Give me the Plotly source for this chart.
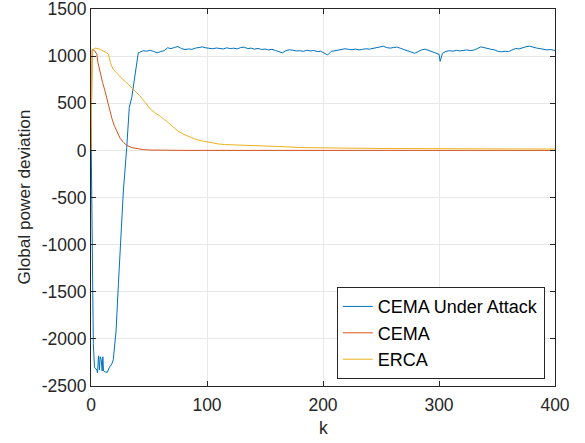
import plotly.graph_objects as go

# CEMA Under Attack
k_attack = [0, 1, 2, 3, 4, 5, 5.6, 6.5, 7.3, 7.9, 8.8, 9.6, 10.2, 10.8, 12, 14, 16, 18, 19.2,
            20.2, 21.6, 23.6, 26.4, 27.9, 30.8, 33, 35.1, 37.9, 38.8, 40.8,
            42, 45, 48, 51, 54, 57, 60, 63, 66, 69, 72, 75, 78, 81, 84, 87, 90, 93, 96, 99,
            102, 105, 108, 111, 114, 117, 120, 123, 126, 129, 132, 135, 138, 141, 144, 147,
            150, 153, 156, 159, 162, 165, 168, 171, 174, 177, 180, 183, 186, 189, 192, 195,
            198, 201, 204, 207, 210, 213, 216, 219, 222, 225, 228, 231, 234, 237, 240, 243,
            246, 249, 252, 255, 258, 261, 264, 267, 270, 273, 276, 279, 282, 285, 288, 291,
            294, 297, 300, 301, 303, 306, 309, 312, 315, 318, 321, 324, 327, 330, 333, 336,
            339, 342, 345, 348, 351, 354, 357, 360, 363, 366, 369, 372, 375, 378, 381, 384,
            387, 390, 393, 396, 399, 400]
v_attack = [259, -1200, -2050, -2300, -2320, -2330, -2360, -2180, -2330, -2190, -2220, -2340,
            -2190, -2340, -2350, -2355, -2300, -2265, -2220,
            -2100, -1918, -1422, -679, -431, 29, 453, 560, 772, 861, 1038,
            1040, 1058, 1052, 1062, 1050, 1035, 1048, 1058, 1088, 1080, 1092, 1102, 1080,
            1070, 1076, 1072, 1085, 1090, 1098, 1088,
            1084, 1078, 1086, 1082, 1076, 1088, 1080, 1084, 1077, 1090, 1096, 1080, 1085,
            1074, 1082, 1070,
            1075, 1066, 1072, 1060, 1048, 1035, 1058, 1068, 1062, 1055, 1058, 1050, 1062,
            1055, 1060, 1048,
            1052, 1030, 1012, 1050, 1058, 1064, 1070, 1078, 1072, 1068, 1075, 1066, 1072,
            1078, 1074, 1080,
            1088, 1100, 1105, 1090, 1085, 1092, 1096, 1082, 1068, 1060, 1045, 1030, 1048,
            1066, 1074, 1062,
            1050, 1040, 1020, 945, 1030, 1050, 1058, 1052, 1062, 1055, 1060, 1066, 1058,
            1064, 1080, 1098,
            1090, 1078, 1072, 1066, 1050, 1046, 1052, 1048, 1066, 1082, 1076, 1090, 1100,
            1106, 1092, 1086,
            1080, 1072, 1066, 1070, 1062, 1060]

# CEMA
k_cema = [0, 1, 3, 5, 6, 8, 10, 12, 14, 16, 18, 20, 22, 25, 28, 31, 35, 40, 45, 50, 60, 80, 400]
v_cema = [0, 1070, 1060, 1020, 930, 810, 720, 633, 530, 430, 340, 265, 205, 130, 85, 52, 30,
          16, 8, 4, 1, 0, 0]

# ERCA
k_erca = [0, 1, 2, 4, 7, 10, 13, 15, 17, 19, 22, 26, 30, 34, 38, 42, 46, 51, 55, 60, 65, 70,
          75, 80, 85, 90, 95, 100, 105, 110, 115, 120, 130, 140, 150, 160, 170, 180, 200, 250,
          300, 350, 400]
v_erca = [0, 1050, 1075, 1085, 1075, 1060, 1040, 1020, 920, 862, 820, 770, 725, 680, 630, 580,
          520, 440, 400, 360, 310, 255, 205, 170, 140, 118, 102, 88, 78, 68, 62, 60, 58, 56,
          50, 44, 37, 30, 25, 20, 18, 16, 14]

x_ticks = [0, 100, 200, 300, 400]
y_ticks = [-2500, -2000, -1500, -1000, -500, 0, 500, 1000, 1500]

FONT = "Liberation Sans, Arial, sans-serif"

fig = go.Figure()
fig.add_trace(go.Scatter(x=k_attack, y=v_attack, mode="lines", name="CEMA Under Attack",
                         line=dict(color="#0072BD", width=1)))
fig.add_trace(go.Scatter(x=k_cema, y=v_cema, mode="lines", name="CEMA",
                         line=dict(color="#D95319", width=1)))
fig.add_trace(go.Scatter(x=k_erca, y=v_erca, mode="lines", name="ERCA",
                         line=dict(color="#EDB120", width=1)))

axis_common = dict(
    showline=True, linecolor="#262626", linewidth=1, mirror="ticks",
    ticks="inside", ticklen=5, tickcolor="#262626",
    showgrid=True, gridcolor="#e8e8e8", gridwidth=1,
    zeroline=False, automargin=False, ticklabeloverflow="allow",
    tickfont=dict(family=FONT, size=17.5, color="#262626"),
)

fig.update_layout(
    width=585, height=443,
    margin=dict(l=91, r=30, t=9, b=57),
    paper_bgcolor="white", plot_bgcolor="white",
    font=dict(family=FONT, size=17.5, color="#262626"),
    xaxis=dict(range=[0, 400], tickvals=x_ticks, ticktext=[str(t) for t in x_ticks],
               ticklabelstandoff=3, **axis_common),
    yaxis=dict(range=[-2500, 1500], tickvals=y_ticks, ticktext=[str(t) for t in y_ticks],
               **axis_common),
    legend=dict(x=0.978, y=0.018, xanchor="right", yanchor="bottom",
                bgcolor="white", bordercolor="#262626", borderwidth=1,
                font=dict(size=18, color="black"), tracegroupgap=0, itemwidth=30),
    showlegend=True,
    annotations=[
        dict(text="Global power deviation", textangle=-90, showarrow=False,
             xref="paper", yref="paper", x=(23 - 91) / 464, y=0.5,
             xanchor="center", yanchor="middle",
             font=dict(family=FONT, size=17.2, color="#262626")),
        dict(text="k", showarrow=False, xref="paper", yref="paper",
             x=0.5, y=-(428 - 386) / 377, xanchor="center", yanchor="middle",
             font=dict(family=FONT, size=17.5, color="#262626")),
    ],
)

fig.write_html("out.html", config={"displayModeBar": False},
               post_script="document.body.style.margin='0';")
